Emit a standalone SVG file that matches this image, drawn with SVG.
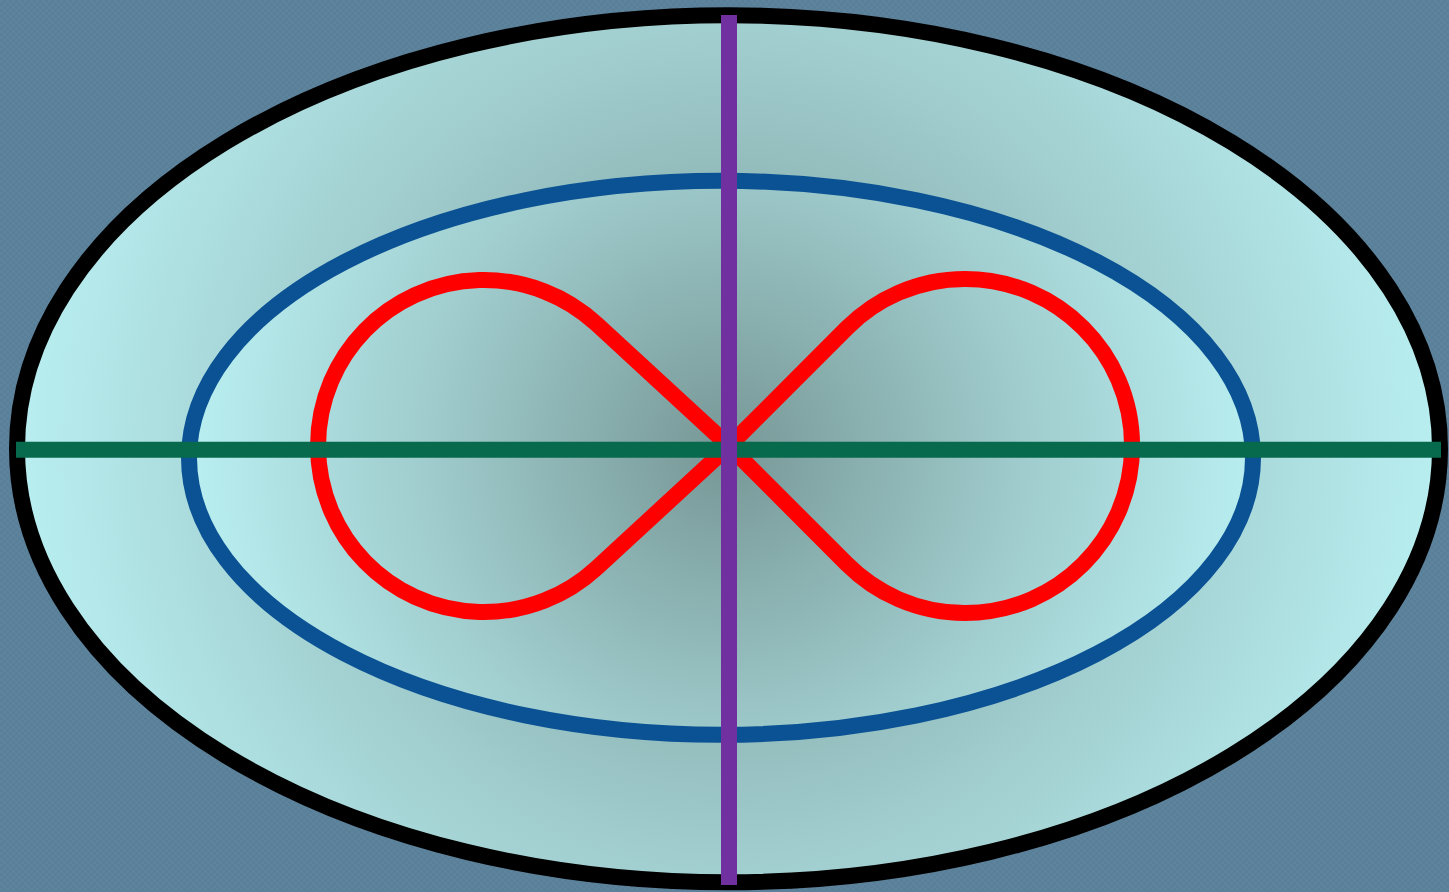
<svg xmlns="http://www.w3.org/2000/svg" width="1449" height="892" viewBox="0 0 1449 892">
  <defs>
    <pattern id="bgp" width="6" height="6" patternUnits="userSpaceOnUse">
      <rect width="6" height="6" fill="#5a7f98"/>
      <rect width="3" height="3" fill="#5e849d"/>
      <rect x="3" y="3" width="3" height="3" fill="#5e849d"/>
    </pattern>
    <radialGradient id="gOuter" gradientUnits="userSpaceOnUse" cx="729" cy="449" r="715">
      <stop offset="0" stop-color="#779796"/>
      <stop offset="0.55" stop-color="#9fcbcc"/>
      <stop offset="1" stop-color="#b9eff1"/>
    </radialGradient>
    <radialGradient id="gInner" gradientUnits="userSpaceOnUse" cx="725" cy="452" r="535">
      <stop offset="0" stop-color="#779796"/>
      <stop offset="0.55" stop-color="#9fcbcc"/>
      <stop offset="1" stop-color="#b9eff1"/>
    </radialGradient>
    <style>
      .outer { fill: url(#gOuter); stroke: #000000; stroke-width: 16; }
      .inner { fill: url(#gInner); stroke: #0b5294; stroke-width: 16; }
      .eight { fill: none; stroke: #ff0000; stroke-width: 16; stroke-linejoin: miter; }
      .hline { stroke: #076a4c; stroke-width: 16; }
      .vline { stroke: #7030a0; stroke-width: 16; }
    </style>
  </defs>
  <rect id="background" width="1449" height="892" fill="url(#bgp)"/>
  <g id="outer-ellipse">
    <ellipse class="outer" cx="728.5" cy="448.8" rx="711.5" ry="433.5"/>
  </g>
  <g id="inner-ellipse">
    <ellipse class="inner" cx="721" cy="457.8" rx="532" ry="277"/>
  </g>
  <g id="figure-eight">
    <path class="eight" d="M 729 446 L 596.5 323.9 A 166 166 0 1 0 596.5 568.1 L 729 446 L 846.9 328 A 167 167 0 1 1 846.9 564 Z"/>
  </g>
  <g id="connectors">
    <line class="hline" x1="16" y1="449.7" x2="1441" y2="449.7"/>
    <line class="vline" x1="729" y1="15" x2="729" y2="885"/>
  </g>
</svg>
